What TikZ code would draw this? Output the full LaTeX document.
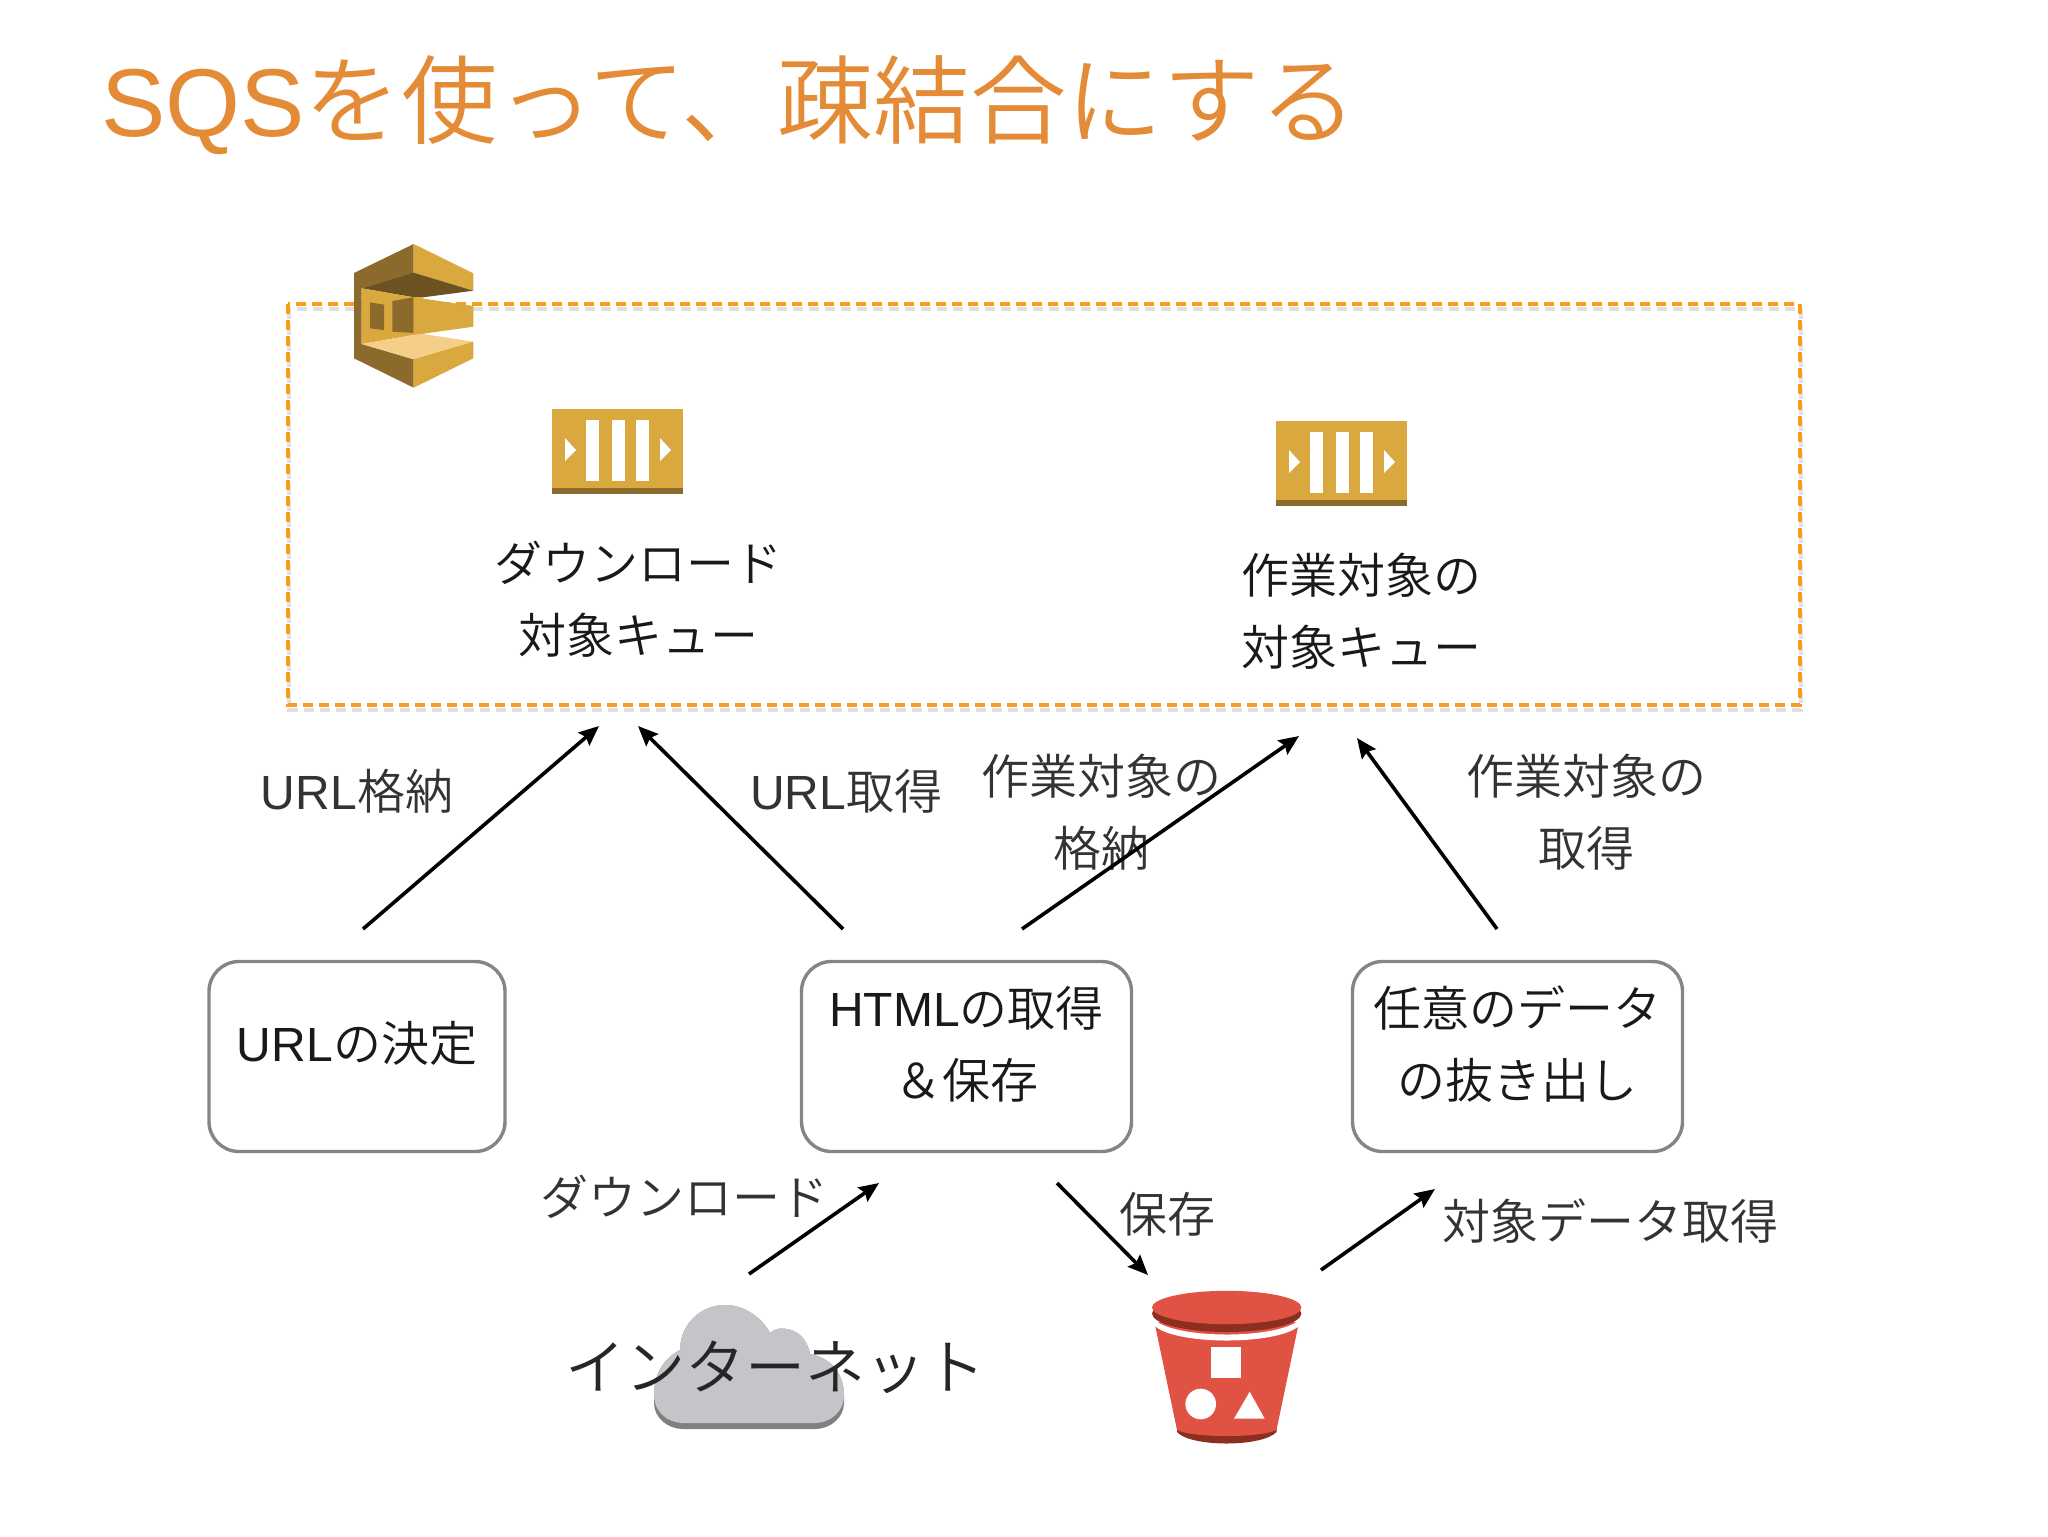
\documentclass[tikz,border=0pt]{standalone}
\usepackage{fontspec}
\setmainfont{Noto Sans CJK JP}[UprightFont={* DemiLight}]
\newfontfamily\latinfont{Liberation Sans}
\newcommand{\lat}[1]{{\latinfont #1}}
\usetikzlibrary{arrows.meta}

\definecolor{sqsgold}{HTML}{D9A83F}
\definecolor{sqsbrown}{HTML}{8C6A2B}
\definecolor{sqsdark}{HTML}{6B5220}
\definecolor{sqslight}{HTML}{F5CF87}
\definecolor{titleorange}{HTML}{E38B36}
\definecolor{areaorange}{HTML}{F99D1C}
\definecolor{cloudgrey}{HTML}{C6C4C8}
\definecolor{bucketred}{HTML}{E05243}
\definecolor{bucketdark}{HTML}{8C2F20}

\tikzset{
  pics/queueicon/.style={code={
    \fill[sqsgold] (0,0) rectangle (131,79);
    \fill[sqsbrown] (0,79) rectangle (131,85);
    \fill[white] (34,11) rectangle (47,72);
    \fill[white] (60,11) rectangle (73,72);
    \fill[white] (84,11) rectangle (97,72);
    \fill[white] (13,29) -- (24,41) -- (13,52) -- cycle;
    \fill[white] (108,29) -- (119,41) -- (108,52) -- cycle;
  }}
}

\begin{document}
\begin{tikzpicture}[x=0.5pt,y=-0.5pt,>={Stealth[length=10pt,width=8.5pt,inset=1.5pt]},
    flow/.style={->,line width=1.8pt},
    procbox/.style={draw=black!48,line width=1.7pt,rounded corners=15pt,minimum height=95pt},
    boxtext/.style={align=center,text=black!90,font=\fontsize{24}{36}\selectfont},
    edgetext/.style={align=center,text=black!80,font=\fontsize{24}{36}\selectfont},
    arealine/.style={dash pattern=on 5pt off 3pt,line width=2pt}]

\useasboundingbox (0,0) rectangle (2048,1536);

\node[anchor=base west,text=titleorange,font=\fontsize{48.2}{48}\selectfont,inner sep=0pt] (title) at (101,136) {\lat{SQS}を使って、疎結合にする};

% sqs area
\draw[arealine,black!12,shift={(1,5)}] (288,304) rectangle (1800,705);
\draw[arealine,areaorange] (288,304) rectangle (1800,705);

% sqs icon
\fill[sqsbrown] (354,273) -- (413.7,244) -- (413.7,273) -- (361.7,288.3) -- (361.7,344) -- (413.7,359.3) -- (413.7,387.7) -- (354,358.3) -- cycle;
\fill[sqsgold] (413.7,244) -- (473.3,273.3) -- (473.3,290.7) -- (413.7,272.7) -- cycle;
\fill[sqsdark] (361.7,288.3) -- (413.7,272.7) -- (473.3,290.7) -- (423.3,297.3) -- (413.7,297.3) -- cycle;
\fill[sqsgold] (361.7,288.3) -- (413.7,297.3) -- (423.3,297.3) -- (423.3,334) -- (413.7,335) -- (361.7,344) -- cycle;
\fill[sqsbrown] (370,302.3) -- (384,304.7) -- (384,330) -- (370,328.3) -- cycle;
\fill[sqsbrown] (392.3,301) -- (413.7,297.3) -- (413.7,333) -- (392.3,331.7) -- cycle;
\fill[sqsgold] (413.7,297.3) -- (473.3,306) -- (473.3,326.7) -- (413.7,335) -- cycle;
\fill[sqslight] (361.7,344) -- (413.7,335) -- (423.3,334) -- (473.3,341.7) -- (413.7,359.3) -- cycle;
\fill[sqsgold] (413.7,359.3) -- (473.3,341.7) -- (473.3,358.3) -- (413.7,387.7) -- cycle;

% queues
\pic (queuea) at (552,409) {queueicon};
\pic (queueb) at (1276,421) {queueicon};
\node[boxtext] (queueatext) at (638,599) {ダウンロード\\対象キュー};
\node[boxtext] (queuebtext) at (1361,611) {作業対象の\\対象キュー};

% process boxes
\node[procbox,minimum width=148pt] (urlbox) at (357,1056.5) {};
\node[procbox,minimum width=165pt] (htmlbox) at (966.5,1056.5) {};
\node[procbox,minimum width=165pt] (databox) at (1517.5,1056.5) {};
\node[boxtext] (urltext) at (357,1043) {\lat{URL}の決定};
\node[boxtext] (htmltext) at (966.5,1044) {\lat{HTML}の取得\\＆保存};
\node[boxtext] (datatext) at (1517.5,1044) {任意のデータ\\の抜き出し};

% cloud
\fill[black!50] (654,1395) .. controls (654,1372) and (665,1358) .. (680,1350) .. controls (680,1325) and (700,1305) .. (725,1305) .. controls (745,1305) and (762,1318) .. (770,1333) .. controls (775,1328) and (782,1328) .. (787,1329) .. controls (800,1331) and (808,1342) .. (810,1354) .. controls (832,1358) and (844,1375) .. (844,1395) -- (844,1403) .. controls (844,1418) and (830,1429) .. (815,1429) -- (683,1429) .. controls (668,1429) and (654,1418) .. (654,1403) -- cycle;
\fill[cloudgrey] (654,1395) .. controls (654,1372) and (665,1358) .. (680,1350) .. controls (680,1325) and (700,1305) .. (725,1305) .. controls (745,1305) and (762,1318) .. (770,1333) .. controls (775,1328) and (782,1328) .. (787,1329) .. controls (800,1331) and (808,1342) .. (810,1354) .. controls (832,1358) and (844,1375) .. (844,1395) .. controls (844,1412) and (830,1423) .. (815,1423) -- (683,1423) .. controls (668,1423) and (654,1412) .. (654,1395) -- cycle;
\node[edgetext,text=black!85,font=\fontsize{30}{36}\selectfont] (inettext) at (775,1367) {インターネット};

% bucket
\fill[bucketdark] (1177,1425) -- (1276.5,1425) -- (1276.5,1432) .. controls (1270,1439) and (1250,1443.5) .. (1226.7,1443.5) .. controls (1203,1443.5) and (1183,1439) .. (1177,1432) -- cycle;
\fill[bucketred] (1154.4,1322) -- (1299,1322) -- (1276.5,1430) .. controls (1260,1438) and (1193,1438) .. (1177,1430) -- cycle;
\fill[white] (1153,1318) .. controls (1170,1340) and (1283,1340) .. (1301,1318) -- (1301,1324) .. controls (1283,1346) and (1170,1346) .. (1153,1324) -- cycle;
\fill[bucketdark] (1226.7,1313.5) ellipse [x radius=74.7,y radius=18.5];
\fill[bucketred] (1226.7,1307.5) ellipse [x radius=74.7,y radius=16.7];
\fill[white] (1210.6,1347) rectangle (1240.6,1378);
\fill[white] (1200.7,1404) circle [radius=15.3];
\fill[white] (1249.7,1391.7) -- (1234,1418.7) -- (1264.7,1418.7) -- cycle;

% labels
\node[edgetext] (urlput) at (357,791) {\lat{URL}格納};
\node[edgetext] (urlget) at (846,791) {\lat{URL}取得};
\node[edgetext] (workput) at (1101,812) {作業対象の\\格納};
\node[edgetext] (workget) at (1586,812) {作業対象の\\取得};
\node[edgetext] (dltext) at (684,1197) {ダウンロード};
\node[edgetext] (savetext) at (1167,1214) {保存};
\node[edgetext] (gettext) at (1610,1221) {対象データ取得};

% arrow ends
\coordinate (a1) at (363,929);
\coordinate (a2) at (599,726);
\coordinate (b1) at (843,929);
\coordinate (b2) at (638,726);
\coordinate (c1) at (1022,929);
\coordinate (c2) at (1299,736);
\coordinate (d1) at (1497,929);
\coordinate (d2) at (1357,738);
\coordinate (e1) at (749,1274);
\coordinate (e2) at (879,1183);
\coordinate (f1) at (1057,1183);
\coordinate (f2) at (1148,1275);
\coordinate (g1) at (1321,1270);
\coordinate (g2) at (1435,1189);

\path[flow]
    (a1) edge (a2)
    (b1) edge (b2)
    (c1) edge (c2)
    (d1) edge (d2)
    (e1) edge (e2)
    (f1) edge (f2)
    (g1) edge (g2)
;
\end{tikzpicture}
\end{document}
